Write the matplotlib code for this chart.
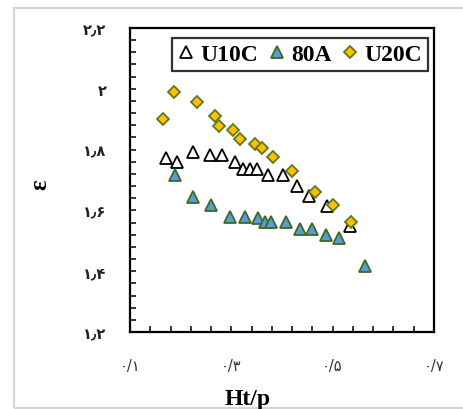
import matplotlib
matplotlib.use("Agg")
import matplotlib.pyplot as plt
import matplotlib.patches as mpatches
import numpy as np

# Series values
u10c_x = [0.171, 0.193, 0.225, 0.258, 0.281, 0.307, 0.324, 0.337, 0.350,
          0.373, 0.401, 0.430, 0.454, 0.488, 0.534]
u10c_y = [1.771, 1.758, 1.791, 1.782, 1.782, 1.758, 1.736, 1.736, 1.736,
          1.716, 1.716, 1.679, 1.648, 1.613, 1.548]

a80_x = [0.189, 0.224, 0.260, 0.297, 0.327, 0.353, 0.366, 0.378, 0.408,
         0.436, 0.459, 0.487, 0.513, 0.564]
a80_y = [1.716, 1.643, 1.618, 1.577, 1.577, 1.575, 1.561, 1.561, 1.563,
         1.539, 1.539, 1.519, 1.508, 1.416]

u20c_x = [0.165, 0.187, 0.232, 0.268, 0.276, 0.303, 0.317, 0.347, 0.360,
          0.383, 0.419, 0.465, 0.500, 0.536]
u20c_y = [1.901, 1.988, 1.956, 1.910, 1.877, 1.865, 1.835, 1.818, 1.804,
          1.775, 1.731, 1.661, 1.618, 1.563]

series_labels = ["U10C", "80A", "U20C"]

# Axis ticks and Persian tick labels
x_ticks = [0.1, 0.3, 0.5, 0.7]
x_tick_labels = ["۰/۱", "۰/۳", "۰/۵", "۰/۷"]
y_ticks = [1.2, 1.4, 1.6, 1.8, 2.0, 2.2]
y_tick_labels = ["۱٫۲", "۱٫۴", "۱٫۶", "۱٫۸", "۲", "۲٫۲"]

W, H = 464, 410
fig = plt.figure(figsize=(W / 100, H / 100), dpi=100)
fig.patch.set_facecolor("white")

# light frame around the figure
fig.patches.append(mpatches.Rectangle((14 / W, 1 - 409 / H), 1.2, (409 - 9) / H,
                                      transform=fig.transFigure, fill=False,
                                      edgecolor="#d6d6d6", linewidth=1.6))

ax = fig.add_axes([130 / W, 1 - 333 / H, (434 - 130) / W, (333 - 29) / H])

ax.plot(u10c_x, u10c_y, linestyle="none", marker="^", markersize=8.8,
        markerfacecolor="white", markeredgecolor="black", markeredgewidth=1.3,
        label=series_labels[0], zorder=3)
ax.plot(a80_x, a80_y, linestyle="none", marker="^", markersize=8.8,
        markerfacecolor="#5B9BD5", markeredgecolor="#3D6A22", markeredgewidth=1.3,
        label=series_labels[1], zorder=3)
ax.plot(u20c_x, u20c_y, linestyle="none", marker="D", markersize=6.0,
        markerfacecolor="#FFC000", markeredgecolor="#5E7A1C", markeredgewidth=1.3,
        label=series_labels[2], zorder=4)

ax.set_xlim(0.1, 0.7)
ax.set_ylim(1.2, 2.2)

ax.set_xticks(x_ticks)
ax.set_xticklabels(x_tick_labels)
ax.set_yticks(y_ticks)
ax.set_yticklabels(y_tick_labels)
ax.set_xticks(np.arange(0.1, 0.7001, 0.04), minor=True)
ax.set_yticks(np.arange(1.2, 2.2001, 0.04), minor=True)

for t in ax.get_yticklabels():
    t.set_fontfamily("DejaVu Sans")
    t.set_fontweight("bold")
    t.set_fontsize(10.5)
    t.set_color("#222222")
for t in ax.get_xticklabels():
    t.set_fontfamily("DejaVu Sans")
    t.set_fontsize(10.5)
    t.set_color("#333333")

ax.tick_params(axis="both", which="both", direction="in", length=4, width=1.1,
               color="black", top=False, right=False)
ax.tick_params(axis="y", which="major", pad=17)
ax.tick_params(axis="x", which="major", pad=19)

for s in ax.spines.values():
    s.set_linewidth(1.6)
    s.set_color("black")

fig.text(248 / W, 1 - 400 / H, "Ht/p", ha="center", va="center",
         fontfamily="Liberation Serif", fontweight="bold", fontsize=17)
fig.text(40 / W, 1 - 185 / H, "ε", ha="center", va="center", rotation=90,
         fontfamily="Liberation Serif", fontweight="bold", fontsize=18)

leg = ax.legend(loc="upper right", bbox_to_anchor=(428 / W, 1 - 39 / H),
                bbox_transform=fig.transFigure, ncol=3, frameon=True,
                fancybox=False, handlelength=0.7, handletextpad=0.25,
                columnspacing=0.45, borderpad=0.25, borderaxespad=0,
                prop={"family": "Liberation Serif", "weight": "bold", "size": 17})
leg.get_frame().set_edgecolor("black")
leg.get_frame().set_linewidth(1.6)

fig.savefig("out.png", dpi=100)
